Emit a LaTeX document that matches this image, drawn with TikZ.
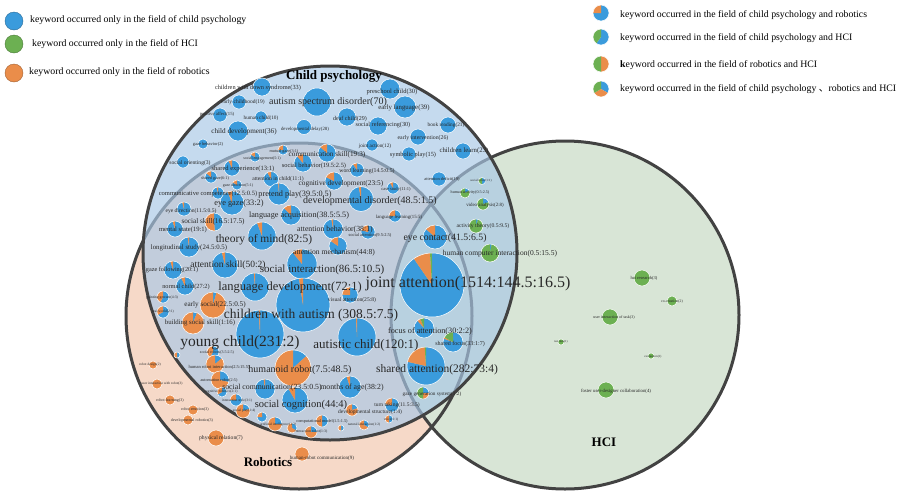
\documentclass[tikz,border=0pt]{standalone}
\usepackage{fontspec}
\setmainfont{Liberation Serif}
\newfontfamily\cjk{Noto Sans CJK SC}
\definecolor{cpb}{RGB}{58,155,220}
\definecolor{rbo}{RGB}{234,141,74}
\definecolor{hcg}{RGB}{108,176,82}
\definecolor{cpfill}{RGB}{169,200,230}
\definecolor{rbfill}{RGB}{246,217,200}
\definecolor{hcfill}{RGB}{216,229,214}
\definecolor{ring}{RGB}{66,66,66}
\definecolor{txt}{RGB}{40,40,40}
\newcommand\fs[1]{\fontsize{#1}{#1}\selectfont}
\newcommand\kpie[6]{%
\pgfmathsetmacro\pT{#4+#5+#6}%
\pgfmathsetmacro\pB{#4/\pT*360}%
\pgfmathsetmacro\pO{#5/\pT*360}%
\pgfmathsetmacro\pG{#6/\pT*360}%
\pgfmathsetmacro\aO{-90+\pB}%
\pgfmathsetmacro\aG{-90+\pB+\pO}%
\ifdim\pB pt>0.01pt \fill[cpb] (#1,#2) -- ++(-90:#3) arc[start angle=-90,delta angle=\pB,radius=#3] -- cycle;\fi
\ifdim\pO pt>0.01pt \fill[rbo] (#1,#2) -- ++(\aO:#3) arc[start angle=\aO,delta angle=\pO,radius=#3] -- cycle;\fi
\ifdim\pG pt>0.01pt \fill[hcg] (#1,#2) -- ++(\aG:#3) arc[start angle=\aG,delta angle=\pG,radius=#3] -- cycle;\fi
\draw[white,line width=0.5pt] (#1,#2) circle[radius=#3];%
}
\tikzset{lab/.style={inner sep=0pt,text=txt},
  title/.style={inner sep=0pt,text=black,font=\fs{13}\bfseries},
  legtext/.style={inner sep=0pt,anchor=west,text=black,font=\fs{9.8}},
  bigring/.style={draw=ring,line width=3pt}}
\begin{document}
\begin{tikzpicture}[x=1pt,y=-1pt]
\fill[white] (0,0) rectangle (916,489);
% big circles
\fill[rbfill] (299,316) circle[radius=173];
\fill[hcfill] (565,315) circle[radius=174];
\draw[bigring] (299,316) circle[radius=173];
\draw[bigring] (565,315) circle[radius=174];
\fill[cpfill,fill opacity=0.67] (330,253) circle[radius=187];
\draw[bigring] (330,253) circle[radius=187];
\node[title] (tcp) at (334,76) {Child psychology};
\node[title] (thci) at (604,442) {HCI};
\node[title] (trob) at (268,462) {Robotics};
% legend
\fill[cpb] (14,21) circle[radius=9]; \draw[cpb!70!black,line width=0.4pt] (14,21) circle[radius=9];
\fill[hcg] (14,44) circle[radius=9]; \draw[hcg!70!black,line width=0.4pt] (14,44) circle[radius=9];
\fill[rbo] (14,73) circle[radius=9]; \draw[rbo!70!black,line width=0.4pt] (14,73) circle[radius=9];
\node[legtext] (lg1) at (30,20) {keyword occurred only in the field of child psychology};
\node[legtext] (lg2) at (32,44) {keyword occurred only in the field of HCI};
\node[legtext] (lg3) at (29,72) {keyword occurred only in the field of robotics};
\kpie{601}{13}{8}{3}{1}{0}
\kpie{601}{37}{8}{6}{0}{4}
\kpie{601}{64}{8}{0}{1}{1}
\kpie{601}{89}{8}{1}{1}{1}
\node[legtext] (lg4) at (620,15) {keyword occurred in the field of child psychology and robotics};
\node[legtext] (lg5) at (620,38) {keyword occurred in the field of child psychology and HCI};
\node[legtext] (lg6) at (620,65) {\textbf{k}eyword occurred in the field of robotics and HCI};
\node[legtext] (lg7) at (620,89) {keyword occurred in the field of child psychology {\cjk 、}robotics and HCI};
% child psychology only
\kpie{262}{87}{9}{1}{0}{0}
\kpie{239}{102}{7}{1}{0}{0}
\kpie{317}{102}{14}{1}{0}{0}
\kpie{390}{89}{10}{1}{0}{0}
\kpie{405}{107}{11}{1}{0}{0}
\kpie{220}{115}{7}{1}{0}{0}
\kpie{261}{117}{6}{1}{0}{0}
\kpie{347}{117}{9}{1}{0}{0}
\kpie{378}{126}{9}{1}{0}{0}
\kpie{448}{125}{8}{1}{0}{0}
\kpie{304}{127}{7.5}{1}{0}{0}
\kpie{238}{131}{10}{1}{0}{0}
\kpie{418}{137}{8}{1}{0}{0}
\kpie{372}{145}{6}{1}{0}{0}
\kpie{409}{154}{7}{1}{0}{0}
\kpie{463}{151}{8}{1}{0}{0}
\kpie{203}{144}{5}{1}{0}{0}
\kpie{183}{162}{6}{1}{0}{0}
\kpie{439}{179}{7}{1}{0}{0}
% child psychology + robotics
\kpie{283}{150}{5}{3}{1}{0}
\kpie{255}{157}{5}{5}{1}{0}
\kpie{327}{153}{9}{19}{3}{0}
\kpie{303}{163}{9}{19.5}{2.5}{0}
\kpie{232}{168}{8}{13}{1}{0}
\kpie{357}{170}{7}{14.5}{1.5}{0}
\kpie{211}{177}{6}{6}{1}{0}
\kpie{271}{179}{7.5}{11}{1}{0}
\kpie{334}{181}{9}{23}{5}{0}
\kpie{237}{185}{5}{5}{1}{0}
\kpie{218}{193}{6}{12.5}{0.5}{0}
\kpie{393}{188}{6}{11}{1}{0}
\kpie{279}{194}{11}{39.5}{0.5}{0}
\kpie{361}{199}{12.5}{48.5}{1.5}{0}
\kpie{232}{203}{12}{33}{2}{0}
\kpie{184}{209}{7}{11.5}{0.5}{0}
\kpie{291}{215}{10}{38.5}{5.5}{0}
\kpie{395}{216}{6}{15}{5}{0}
\kpie{214}{222}{9}{16.5}{17.5}{0}
\kpie{175}{229}{8}{19}{1}{0}
\kpie{333}{229}{10}{38}{1}{0}
\kpie{368}{232}{7}{9.5}{2.5}{0}
\kpie{435}{237}{12}{41.5}{6.5}{0}
\kpie{262}{236}{14}{82}{5}{0}
\kpie{189}{247}{10}{24.5}{0.5}{0}
\kpie{338}{246}{9}{44}{8}{0}
\kpie{225}{265}{13}{50}{2}{0}
\kpie{302}{264}{15}{86.5}{10.5}{0}
\kpie{173}{270}{9}{20}{1}{0}
\kpie{185}{286}{9}{27}{2}{0}
\kpie{255}{287}{14}{72}{1}{0}
\kpie{350}{295}{8}{25}{8}{0}
\kpie{163}{297}{6}{4}{3}{0}
\kpie{213}{305}{13}{1}{22}{0}
\kpie{163}{312}{6}{2}{1}{0}
\kpie{193}{323}{11}{1}{16}{0}
\kpie{303}{305}{27}{308.5}{7.5}{0}
\kpie{357}{337}{19}{120}{1}{0}
\kpie{260}{334}{24}{231}{2}{0}
\kpie{293}{368}{18}{7.5}{48.5}{0}
\kpie{213}{352}{6}{3.5}{2.5}{0}
\kpie{215}{364}{9}{2.5}{15.5}{0}
\kpie{177}{355}{3}{1}{1}{0}
\kpie{220}{380}{9}{2}{5}{0}
\kpie{265}{389}{10}{23.5}{0.5}{0}
\kpie{222}{392}{5}{2}{1}{0}
\kpie{350}{387}{11}{38}{2}{0}
\kpie{295}{400}{13}{44}{4}{0}
\kpie{236}{400}{6}{3}{1}{0}
\kpie{243}{411}{7}{1}{4}{0}
\kpie{262}{417}{5}{3}{1}{0}
\kpie{275}{424}{7}{1}{3}{0}
\kpie{292}{428}{5}{1}{2}{0}
\kpie{392}{405}{7}{11.5}{3.5}{0}
\kpie{352}{410}{6}{1}{4}{0}
\kpie{322}{421}{6}{1.5}{1.5}{0}
\kpie{364}{425}{5}{1}{2}{0}
\kpie{389}{419}{4}{1}{1}{0}
\kpie{311}{432}{6}{1}{3}{0}
\kpie{341}{428}{3}{1}{1}{0}
% three fields / child psychology + HCI
\kpie{432}{285}{32}{1514}{144.5}{16.5}
\kpie{424}{328}{10}{30}{2}{2}
\kpie{453}{342}{10}{33}{1}{7}
\kpie{426}{366}{19}{282}{73}{4}
\kpie{423}{393}{6}{1}{1}{2}
\kpie{490}{253}{9}{0.5}{0}{15.5}
\kpie{482}{181}{3.5}{1}{0}{1}
\kpie{465}{193}{5}{0.5}{0}{2.5}
\kpie{483}{204}{6}{2}{0}{8}
\kpie{476}{226}{7}{0.5}{0}{9.5}
% robotics only
\kpie{153}{365}{4}{0}{1}{0}
\kpie{157}{384}{5}{0}{1}{0}
\kpie{170}{400}{5}{0}{1}{0}
\kpie{193}{410}{5}{0}{1}{0}
\kpie{188}{420}{5}{0}{1}{0}
\kpie{216}{438}{8}{0}{1}{0}
\kpie{302}{454}{7}{0}{1}{0}
% HCI only
\kpie{642}{278}{8}{0}{0}{1}
\kpie{672}{301}{5}{0}{0}{1}
\kpie{610}{317}{8}{0}{0}{1}
\kpie{561}{342}{3}{0}{0}{1}
\kpie{651}{356}{3}{0}{0}{1}
\kpie{606}{390}{8}{0}{0}{1}
% labels: child psychology only
\node[lab,font=\fs{6.3}] (k1) at (258,88) {children with down syndrome(33)};
\node[lab,font=\fs{5.5}] (k2) at (243,102) {early childhood(19)};
\node[lab,font=\fs{10}] (k3) at (328,102) {autism spectrum disorder(70)};
\node[lab,font=\fs{6.5}] (k4) at (392,92) {preschool child(30)};
\node[lab,font=\fs{6.8}] (k5) at (404,108) {early language(39)};
\node[lab,font=\fs{4.7}] (k6) at (217,114) {positive affect(15)};
\node[lab,font=\fs{5.2}] (k7) at (261,118) {human child(10)};
\node[lab,font=\fs{6}] (k8) at (350,119) {deaf child(29)};
\node[lab,font=\fs{6.2}] (k9) at (383,125) {social referencing(30)};
\node[lab,font=\fs{5.3}] (k10) at (446,125) {book reading(21)};
\node[lab,font=\fs{4.8}] (k11) at (305,129) {developmental delay(28)};
\node[lab,font=\fs{7.2}] (k12) at (244,132) {child development(36)};
\node[lab,font=\fs{5.8}] (k13) at (423,138) {early intervention(26)};
\node[lab,font=\fs{5.2}] (k14) at (375,146) {joint action(12)};
\node[lab,font=\fs{6.3}] (k15) at (413,155) {symbolic play(15)};
\node[lab,font=\fs{6.8}] (k16) at (464,151) {children learn(23)};
\node[lab,font=\fs{4.5}] (k17) at (208,144) {gaze behavior(2)};
\node[lab,font=\fs{5.6}] (k18) at (190,163) {social orienting(3)};
\node[lab,font=\fs{4.4}] (k19) at (442,179) {attention deficit(19)};
% labels: child psychology + robotics
\node[lab,font=\fs{4.2}] (r1) at (284,151) {mutual gaze(3:1)};
\node[lab,font=\fs{4}] (r2) at (262,159) {social engagement(5:1)};
\node[lab,font=\fs{7.2}] (r3) at (327,155) {communication skill(19:3)};
\node[lab,font=\fs{6.4}] (r4) at (314,166) {social behavior(19.5:2.5)};
\node[lab,font=\fs{6.5}] (r5) at (243,169) {shared experience(13:1)};
\node[lab,font=\fs{5.8}] (r6) at (367,171) {word learning(14.5:0.5)};
\node[lab,font=\fs{4.2}] (r7) at (215,178) {shared gaze(6:1)};
\node[lab,font=\fs{5.6}] (r8) at (278,179) {attention in child(11:1)};
\node[lab,font=\fs{7.3}] (r9) at (341,184) {cognitive development(23:5)};
\node[lab,font=\fs{4}] (r10) at (238,186) {gaze direction(5:1)};
\node[lab,font=\fs{4.5}] (r11) at (396,189) {case study(11:1)};
\node[lab,font=\fs{6.5}] (r12) at (208,194) {communicative competence(12.5:0.5)};
\node[lab,font=\fs{8.2}] (r13) at (295,195) {pretend play(39.5:0.5)};
\node[lab,font=\fs{10}] (r14) at (370,201) {developmental disorder(48.5:1.5)};
\node[lab,font=\fs{8.3}] (r15) at (239,204) {eye gaze(33:2)};
\node[lab,font=\fs{5.6}] (r16) at (191,211) {eye direction(11.5:0.5)};
\node[lab,font=\fs{8.2}] (r17) at (299,216) {language acquisition(38.5:5.5)};
\node[lab,font=\fs{4.8}] (r18) at (399,217) {language learning(15:5)};
\node[lab,font=\fs{7.2}] (r19) at (213,222) {social skill(16.5:17.5)};
\node[lab,font=\fs{6.6}] (r20) at (183,230) {mental state(19:1)};
\node[lab,font=\fs{7.8}] (r21) at (335,230) {attention behavior(38:1)};
\node[lab,font=\fs{4.5}] (r22) at (370,235) {social attention(9.5:2.5)};
\node[lab,font=\fs{9.8}] (r23) at (445,238) {eye contact(41.5:6.5)};
\node[lab,font=\fs{11.5}] (r24) at (264,240) {theory of mind(82:5)};
\node[lab,font=\fs{6.8}] (r25) at (189,248) {longitudinal study(24.5:0.5)};
\node[lab,font=\fs{7.6}] (r26) at (334,253) {attention mechanism(44:8)};
\node[lab,font=\fs{9.5}] (r27) at (228,265) {attention skill(50:2)};
\node[lab,font=\fs{11}] (r28) at (322,270) {social interaction(86.5:10.5)};
\node[lab,font=\fs{6.2}] (r29) at (172,270) {gaze following(20:1)};
\node[lab,font=\fs{6.3}] (r30) at (186,287) {normal child(27:2)};
\node[lab,font=\fs{12.5}] (r31) at (290,288) {language development(72:1)};
\node[lab,font=\fs{5.6}] (r32) at (352,300) {visual attention(25:8)};
\node[lab,font=\fs{3.8}] (r33) at (162,298) {pointing gesture(4:3)};
\node[lab,font=\fs{7.2}] (r34) at (215,305) {early social(22.5:0.5)};
\node[lab,font=\fs{3.6}] (r35) at (163,312) {real world(2:1)};
\node[lab,font=\fs{6.8}] (r36) at (200,323) {building social skill(1:16)};
\node[lab,font=\fs{13.5}] (r37) at (311,315) {children with autism (308.5:7.5)};
\node[lab,font=\fs{13}] (r38) at (366,345) {autistic child(120:1)};
\node[lab,font=\fs{15.5}] (r39) at (240,343) {young child(231:2)};
\node[lab,font=\fs{10}] (r40) at (300,370) {humanoid robot(7.5:48.5)};
\node[lab,font=\fs{4}] (r41) at (217,353) {social robots(3.5:2.5)};
\node[lab,font=\fs{4.5}] (r42) at (219,367) {human robot interaction(2.5:15.5)};
\node[lab,font=\fs{4.2}] (r43) at (219,380) {automation robot(2:5)};
\node[lab,font=\fs{7.8}] (r44) at (272,388) {social communication(23.5:0.5)};
\node[lab,font=\fs{3.6}] (r45) at (221,392) {cognitive robotics(2:1)};
\node[lab,font=\fs{7.8}] (r46) at (352,388) {months of age(38:2)};
\node[lab,font=\fs{10.5}] (r47) at (301,405) {social cognition(44:4)};
\node[lab,font=\fs{3.6}] (r48) at (237,401) {interaction style(3:1)};
\node[lab,font=\fs{3.6}] (r49) at (244,411) {social play(1:4)};
\node[lab,font=\fs{5.5}] (r50) at (397,405) {turn taking(11.5:3.5)};
\node[lab,font=\fs{5.5}] (r51) at (370,412) {developmental structure(1:4)};
\node[lab,font=\fs{4.3}] (r52) at (322,421) {computational model(1.5:1.5)};
\node[lab,font=\fs{3.5}] (r53) at (364,425) {natural interaction(1:2)};
\node[lab,font=\fs{3.5}] (r54) at (391,420) {voice(1:1)};
\node[lab,font=\fs{3.8}] (r55) at (311,432) {interaction robot(1:3)};
\node[lab,font=\fs{3.5}] (r56) at (278,425) {artificial intelligence(1:3)};
% labels: three fields / child psychology + HCI
\node[lab,font=\fs{16}] (h1) at (468,284) {joint attention(1514:144.5:16.5)};
\node[lab,font=\fs{8.2}] (h2) at (430,331) {focus of attention(30:2:2)};
\node[lab,font=\fs{6}] (h3) at (460,344) {shared focus(33:1:7)};
\node[lab,font=\fs{11.5}] (h4) at (437,370) {shared attention(282:73:4)};
\node[lab,font=\fs{5.2}] (h5) at (432,394) {gaze generation system(1:2)};
\node[lab,font=\fs{7.5}] (h6) at (500,254) {human computer interaction(0.5:15.5)};
\node[lab,font=\fs{3.2}] (h7) at (481,181) {social robot(1:1)};
\node[lab,font=\fs{4.1}] (h8) at (470,193) {human activity(0.5:2.5)};
\node[lab,font=\fs{4.9}] (h9) at (485,205) {video analysis(2:8)};
\node[lab,font=\fs{5.7}] (h10) at (483,226) {activity theory(0.5:9.5)};
% labels: robotics only
\node[lab,font=\fs{3.5}] (o1) at (150,365) {robot design(2)};
\node[lab,font=\fs{3.5}] (o2) at (162,384) {user interaction with robot(3)};
\node[lab,font=\fs{4}] (o3) at (170,401) {robot learning(3)};
\node[lab,font=\fs{4}] (o4) at (195,410) {robot emotion(3)};
\node[lab,font=\fs{4}] (o5) at (192,421) {developmental robotics(3)};
\node[lab,font=\fs{5.6}] (o6) at (221,438) {physical relation(7)};
\node[lab,font=\fs{5}] (o7) at (322,458) {human-robot communication(9)};
% labels: HCI only
\node[lab,font=\fs{4.5}] (g1) at (644,278) {hci research(3)};
\node[lab,font=\fs{3.8}] (g2) at (672,302) {co-creation(2)};
\node[lab,font=\fs{4}] (g3) at (614,318) {user interaction of task(3)};
\node[lab,font=\fs{3}] (g4) at (561,342) {test data(1)};
\node[lab,font=\fs{3.2}] (g5) at (653,357) {evaluation(1)};
\node[lab,font=\fs{4.8}] (g6) at (616,391) {foster user-designer collaboration(4)};
\end{tikzpicture}
\end{document}
